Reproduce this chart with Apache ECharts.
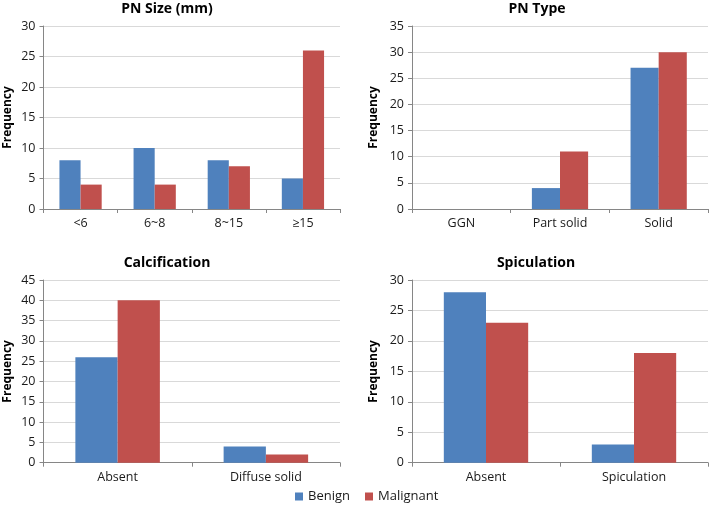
<!DOCTYPE html>
<html><head><meta charset="utf-8">
<script src="https://cdn.jsdelivr.net/npm/echarts@6/dist/echarts.min.js"></script>
<style>html,body{margin:0;padding:0;background:#fff}#c{width:709px;height:506px}</style>
</head><body><div id="c"></div>
<script>
const seriesNames = ['Benign', 'Malignant'];
const titles = ['PN Size (mm)', 'PN Type', 'Calcification', 'Spiculation'];
const cats1 = ['<6', '6~8', '8~15', '≥15'];
const benign1 = [8, 10, 8, 5];
const malignant1 = [4, 4, 7, 26];
const cats2 = ['GGN', 'Part solid', 'Solid'];
const benign2 = [0, 4, 27];
const malignant2 = [0, 11, 30];
const cats3 = ['Absent', 'Diffuse solid'];
const benign3 = [26, 4];
const malignant3 = [40, 2];
const cats4 = ['Absent', 'Spiculation'];
const benign4 = [28, 3];
const malignant4 = [23, 18];
const yMax = [30, 35, 45, 30];

const cats = [cats1, cats2, cats3, cats4];
const bens = [benign1, benign2, benign3, benign4];
const mals = [malignant1, malignant2, malignant3, malignant4];

const FONT = 'Open Sans';
const grids = [
  {left: 43.5, top: 26, width: 296.5, height: 183},
  {left: 412, top: 26, width: 296, height: 183},
  {left: 43.5, top: 280, width: 296.5, height: 182.7},
  {left: 412, top: 280, width: 296, height: 182.7}
];
const titleCenters = [[167, 2], [537, 2], [167, 256], [536, 256]];
const nameGaps = [30, 32, 30, 32];

const option = {
  animation: false,
  backgroundColor: '#fff',
  title: titles.map((t, i) => ({
    text: t, left: titleCenters[i][0], top: titleCenters[i][1], textAlign: 'center',
    padding: 0,
    textStyle: {fontFamily: FONT, fontSize: 14, fontWeight: 'bold', color: '#000'}
  })),
  legend: {
    data: seriesNames, left: 295, top: 490, itemWidth: 8, itemHeight: 8, itemGap: 15,
    padding: 0, icon: 'rect',
    textStyle: {fontFamily: FONT, fontSize: 13, color: '#1a1a1a'}
  },
  grid: grids.map(g => Object.assign({containLabel: false}, g)),
  xAxis: cats.map((c, i) => ({
    type: 'category', gridIndex: i, data: c,
    axisLine: {lineStyle: {color: '#868686'}},
    axisTick: {show: true, length: 4, lineStyle: {color: '#868686'}},
    axisLabel: {fontFamily: FONT, fontSize: 12.5, color: '#1a1a1a', margin: 8, interval: 0}
  })),
  yAxis: yMax.map((m, i) => ({
    type: 'value', gridIndex: i, min: 0, max: m, interval: 5,
    name: 'Frequency', nameLocation: 'middle', nameGap: nameGaps[i],
    nameTextStyle: {fontFamily: FONT, fontSize: 12, fontWeight: 'bold', color: '#000'},
    axisLine: {show: true, lineStyle: {color: '#868686'}},
    axisTick: {show: true, length: 4, lineStyle: {color: '#868686'}},
    axisLabel: {fontFamily: FONT, fontSize: 12.5, color: '#1a1a1a', margin: 8},
    splitLine: {lineStyle: {color: '#d9d9d9'}}
  })),
  series: []
};
for (let i = 0; i < 4; i++) {
  option.series.push({
    name: seriesNames[0], type: 'bar', xAxisIndex: i, yAxisIndex: i, data: bens[i],
    barGap: 0, barCategoryGap: '43%', itemStyle: {color: '#4F81BD'}
  });
  option.series.push({
    name: seriesNames[1], type: 'bar', xAxisIndex: i, yAxisIndex: i, data: mals[i],
    barGap: 0, barCategoryGap: '43%', itemStyle: {color: '#C0504D'}
  });
}
const chart = echarts.init(document.getElementById('c'));
chart.setOption(option);
</script></body></html>
